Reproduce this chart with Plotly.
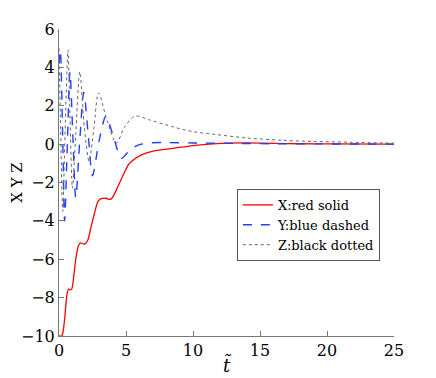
import plotly.graph_objects as go

# values
t_x = [0, 0.2, 0.3, 0.45, 0.6, 0.72, 0.85, 0.95, 1.1, 1.25, 1.45, 1.6, 1.8, 1.95, 2.15,
       2.4, 2.65, 2.9, 3.1, 3.5, 3.85, 4.1, 4.4, 4.9, 5.2, 5.5, 6.2, 7.1, 8.5, 10, 11,
       12.5, 14, 16, 18, 20, 25]
x_vals = [-10, -10, -9.8, -8.9, -7.8, -7.55, -7.6, -7.55, -6.9, -6.0, -5.3, -5.15, -5.2,
          -5.2, -5.0, -4.3, -3.6, -3.0, -2.85, -2.82, -2.88, -2.65, -2.2, -1.45, -1.05,
          -0.85, -0.55, -0.35, -0.22, -0.08, -0.01, 0.05, 0.06, 0.04, 0.02, 0.01, 0.0]

t_y = [0, 0.1, 0.27, 0.42, 0.6, 0.82, 1.03, 1.25, 1.55, 1.85, 2.18, 2.5, 3.0, 3.5, 4.1,
       4.65, 5.3, 5.9, 6.9, 8, 10, 13, 16, 20, 25]
y_vals = [4.2, 4.9, 0.5, -4.0, -0.5, 3.77, 0.5, -2.8, 0.2, 2.7, 0.5, -1.65, 0.2, 1.45,
          0.3, -0.74, -0.3, -0.05, 0.07, 0.08, 0.06, 0.04, 0.02, 0.01, 0.0]

t_z = [0, 0.1, 0.28, 0.45, 0.67, 0.82, 1.0, 1.25, 1.55, 1.9, 2.25, 2.6, 2.95, 3.6, 4.28,
       4.9, 5.65, 6.8, 8.5, 10, 11.75, 14, 16.7, 19, 21.7, 25]
z_vals = [5.0, 1.5, -3.5, 0.5, 4.9, 1.5, -2.3, 0.5, 3.77, 0.8, -0.9, 0.8, 2.67, 1.2, 0.05,
          0.9, 1.46, 1.25, 0.9, 0.65, 0.5, 0.32, 0.2, 0.14, 0.1, 0.05]

x_ticks = [0, 5, 10, 15, 20, 25]
y_ticks = [-10, -8, -6, -4, -2, 0, 2, 4, 6]

SERIF = 'DejaVu Serif'

fig = go.Figure()
fig.add_trace(go.Scatter(x=t_x, y=x_vals, mode='lines', name='X:red solid',
                         line=dict(color='#ff0000', width=1.3, shape='spline', smoothing=0.8)))
fig.add_trace(go.Scatter(x=t_y, y=y_vals, mode='lines', name='Y:blue dashed',
                         line=dict(color='#2040ff', width=1.4, dash='dash', shape='spline', smoothing=0.8)))
fig.add_trace(go.Scatter(x=t_z, y=z_vals, mode='lines', name='Z:black dotted',
                         line=dict(color='#666666', width=1, dash='dot', shape='spline', smoothing=0.8)))

axis_common = dict(showgrid=False, zeroline=False, showline=True, linecolor='#777777',
                   linewidth=1, ticks='inside', ticklen=5, tickcolor='#777777',
                   automargin=False,
                   tickfont=dict(family=SERIF, size=16, color='black'))

# page body has an 8px margin, so the figure is a bit smaller than the window
fig.update_layout(
    width=428, height=370,
    margin=dict(l=51, r=42, t=21, b=42),
    paper_bgcolor='white', plot_bgcolor='white',
    font=dict(family=SERIF, color='black'),
    xaxis=dict(range=[0, 25], tickvals=x_ticks, **axis_common,
               title=dict(text='<i>t̃</i>', font=dict(family=SERIF, size=18), standoff=0)),
    yaxis=dict(range=[-10, 6], tickvals=y_ticks, **axis_common,
               title=dict(text='X Y Z', font=dict(family=SERIF, size=15), standoff=4)),
    legend=dict(x=0.531, y=0.479, xanchor='left', yanchor='top',
                bordercolor='#555555', borderwidth=1, bgcolor='white',
                font=dict(family=SERIF, size=13), tracegroupgap=0, itemwidth=30),
    showlegend=True,
)

fig.write_html("out.html")
